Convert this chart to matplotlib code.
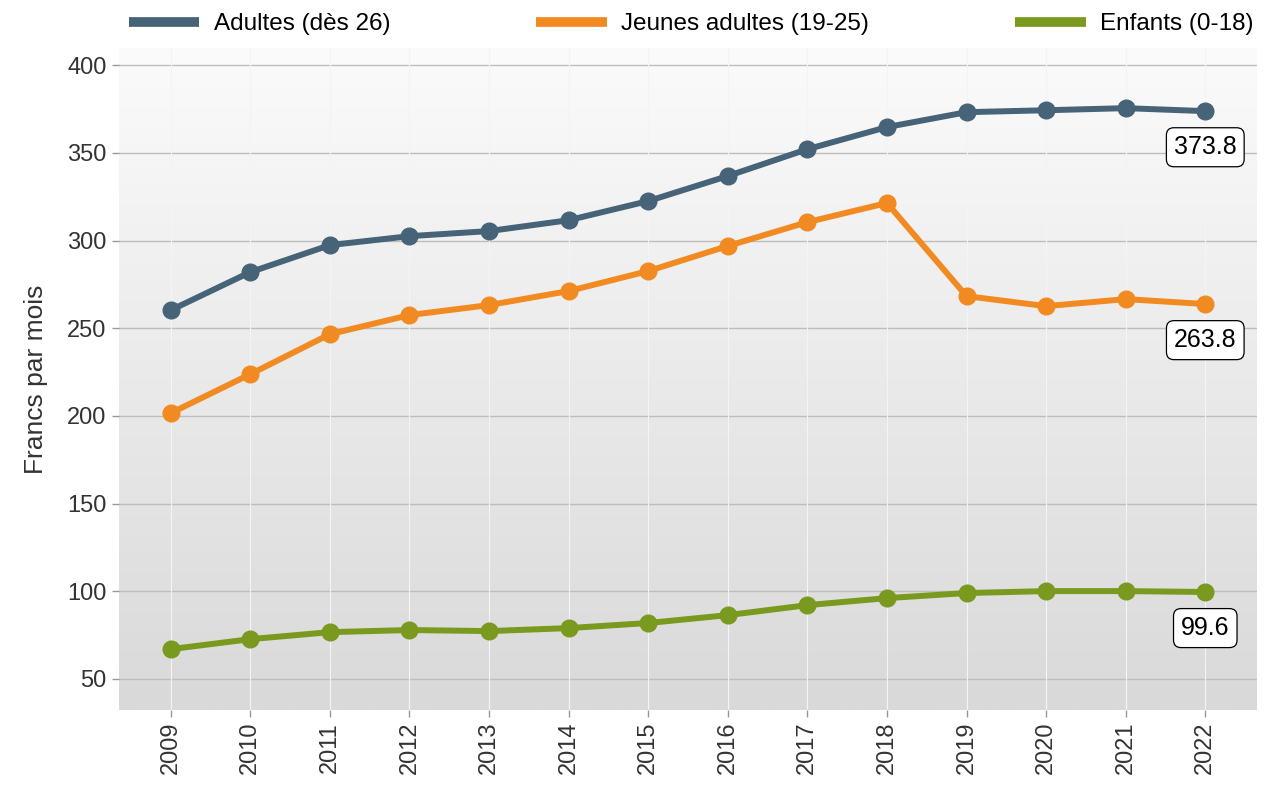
import numpy as np
import matplotlib
matplotlib.use("Agg")
import matplotlib.pyplot as plt

plt.rcParams['font.family'] = ['Liberation Sans', 'DejaVu Sans']

years = list(range(2009, 2023))
adultes = [260.3, 282.0, 297.4, 302.5, 305.4, 311.6, 322.5, 336.8, 352.1, 364.7, 373.2, 374.3, 375.5, 373.8]
jeunes = [201.6, 223.8, 246.6, 257.5, 263.2, 271.2, 282.6, 296.9, 310.5, 321.4, 268.3, 262.6, 266.6, 263.8]
enfants = [67.0, 72.7, 76.7, 77.9, 77.3, 79.0, 81.9, 86.4, 92.1, 96.1, 99.0, 100.1, 100.1, 99.6]

names = ["Adultes (dès 26)", "Jeunes adultes (19-25)", "Enfants (0-18)"]
colors = ["#466378", "#F28A22", "#7A991F"]
series = [adultes, jeunes, enfants]

fig = plt.figure(figsize=(12.8, 8), dpi=100)
ax = fig.add_axes([119/1280, 1 - 710/800, (1257 - 119)/1280, (710 - 48)/800])

xmin, xmax = 2008.35, 2022.65
ymin, ymax = 32.3, 409.8

# gradient background, white on top to light grey at the bottom
grad = np.linspace(0, 1, 256).reshape(-1, 1)
ax.imshow(grad, extent=[xmin, xmax, ymin, ymax], aspect='auto', origin='upper',
          cmap=matplotlib.colors.LinearSegmentedColormap.from_list('bg', ['#fbfbfb', '#d9d9d9']),
          zorder=0)

ax.set_xlim(xmin, xmax)
ax.set_ylim(ymin, ymax)

for y in range(50, 401, 50):
    ax.axhline(y, color='#bdbdbd', lw=1.0, zorder=1)
for x in years:
    ax.axvline(x, color='#f4f4f4', lw=0.8, zorder=1)

for vals, c, n in zip(series, colors, names):
    ax.plot(years, vals, color=c, lw=4.3, marker='o', ms=12, zorder=3, label=n,
            solid_capstyle='round')
    ax.annotate(f"{vals[-1]:.1f}", xy=(years[-1], vals[-1]), xytext=(0, -26),
                textcoords='offset points', ha='center', va='center', fontsize=18,
                color='black', zorder=4,
                bbox=dict(boxstyle='round,pad=0.3,rounding_size=0.3', fc='white', ec='black', lw=0.9))

ax.set_xticks(years)
ax.set_xticklabels([str(y) for y in years], rotation=90, fontsize=17, color='#333333')
ax.set_yticks(range(50, 401, 50))
ax.tick_params(axis='y', labelsize=17, labelcolor='#333333', color='#999999', length=5, width=1, pad=4)
ax.tick_params(axis='x', color='#999999', length=5, width=1)
ax.set_ylabel("Francs par mois", fontsize=19, color='#333333', labelpad=14)
for s in ax.spines.values():
    s.set_visible(False)

handles = [plt.Line2D([], [], color=c, lw=7, solid_capstyle='butt') for c in colors]
fig.legend(handles, names, loc='center left', bbox_to_anchor=(107/1280, 1 - 24/800),
           ncol=3, frameon=False, fontsize=17.5, handlelength=2.9, handletextpad=0.6,
           columnspacing=6.0)

fig.savefig("out.png", dpi=100)
